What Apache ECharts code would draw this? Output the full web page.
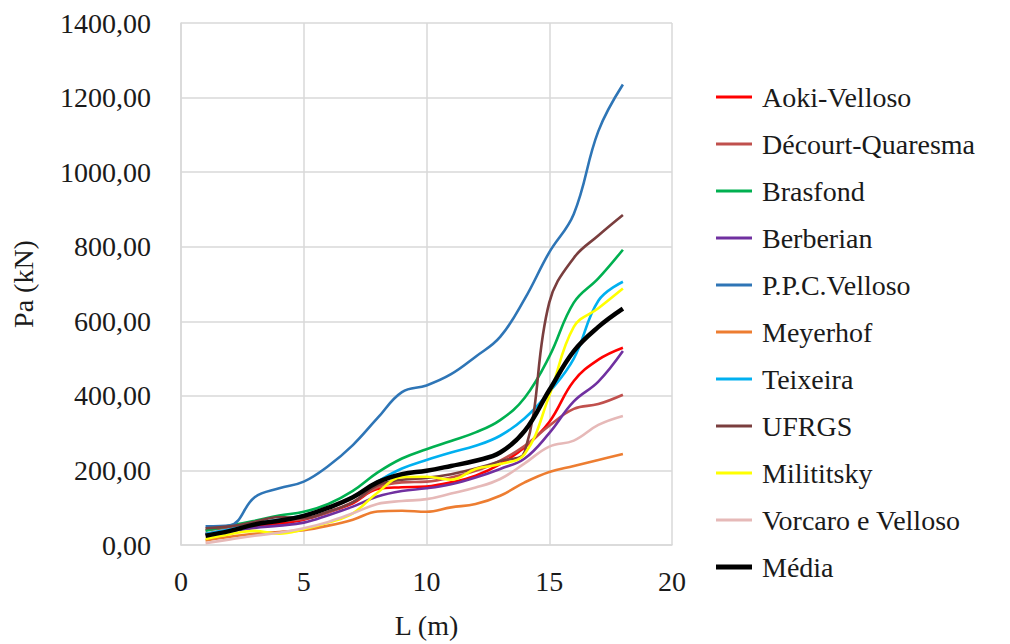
<!DOCTYPE html>
<html>
<head>
<meta charset="utf-8">
<script src="https://cdn.jsdelivr.net/npm/echarts@6/dist/echarts.min.js"></script>
<style>
  html, body { margin: 0; padding: 0; background: #ffffff; }
  #chart { width: 1010px; height: 644px; }
</style>
</head>
<body>
<div id="chart"></div>
<script>
// Pile length L (m) at which each method was evaluated
const lengths = [1, 2, 3, 4, 5, 6, 7, 8, 9, 10, 11, 12, 13, 14, 15, 16, 17, 18];

// Bearing capacity Pa (kN) per method
const aokiVelloso      = [30, 40, 50, 57, 68, 88, 112, 150, 155, 157, 168, 186, 217, 262, 330, 440, 497, 529];
const decourtQuaresma  = [40, 48, 58, 65, 70, 88, 115, 155, 168, 170, 181, 199, 226, 266, 320, 365, 378, 403];
const brasfond         = [38, 52, 65, 79, 89, 110, 145, 194, 232, 257, 279, 302, 335, 395, 505, 650, 715, 792];
const berberian        = [28, 37, 46, 52, 60, 80, 103, 130, 145, 152, 163, 181, 204, 232, 300, 385, 438, 520];
const ppcVelloso       = [50, 53, 128, 152, 170, 212, 268, 340, 410, 428, 458, 505, 558, 660, 785, 888, 1110, 1235];
const meyerhof         = [12, 22, 30, 35, 40, 52, 68, 90, 92, 89, 101, 110, 132, 168, 196, 212, 228, 244];
const teixeira         = [30, 42, 57, 68, 80, 100, 130, 170, 205, 228, 248, 266, 293, 340, 410, 500, 655, 706];
const ufrgs            = [45, 50, 62, 75, 72, 90, 115, 160, 175, 180, 190, 205, 225, 250, 650, 770, 830, 885];
const milititsky       = [16, 29, 38, 30, 42, 60, 85, 140, 182, 183, 175, 204, 217, 244, 400, 585, 635, 688];
const vorcaroVelloso   = [5, 15, 25, 33, 45, 62, 85, 110, 118, 123, 138, 154, 177, 219, 264, 280, 322, 346];
const media            = [25, 38, 55, 65, 78, 100, 128, 168, 190, 199, 212, 226, 248, 306, 415, 520, 585, 634];

const seriesNames = ['Aoki-Velloso', 'Décourt-Quaresma', 'Brasfond', 'Berberian', 'P.P.C.Velloso',
                     'Meyerhof', 'Teixeira', 'UFRGS', 'Milititsky', 'Vorcaro e Velloso', 'Média'];
const seriesValues = [aokiVelloso, decourtQuaresma, brasfond, berberian, ppcVelloso,
                      meyerhof, teixeira, ufrgs, milititsky, vorcaroVelloso, media];
const seriesColors = ['#ff0000', '#c0504d', '#00b050', '#7030a0', '#2e75b6',
                      '#ed7d31', '#00b0f0', '#7a3e3e', '#ffff00', '#e6b9b8', '#000000'];

const FONT = '"Liberation Serif", "Times New Roman", serif';
const TEXT_COLOR = '#1a1a1a';
const AVERAGE = 'Média';

// Legend keys are plain line segments; the average gets a heavier one
const thinKey = 'path://M0,0 H36 V3 H0 Z';
const thickKey = 'path://M0,0 H36 V5 H0 Z';

const chart = echarts.init(document.getElementById('chart'), null, { renderer: 'svg' });

const series = seriesNames.map((name, k) => ({
  name: name,
  type: 'line',
  data: lengths.map((l, i) => [l, seriesValues[k][i]]),
  smooth: 0.4,
  symbol: 'none',
  lineStyle: { color: seriesColors[k], width: name === AVERAGE ? 4.5 : 2.6 },
  itemStyle: { color: seriesColors[k] },
  z: name === AVERAGE ? 5 : 2
}));

chart.setOption({
  animation: false,
  backgroundColor: '#ffffff',
  grid: { left: 181, right: 338, top: 23, bottom: 98, containLabel: false },
  xAxis: {
    type: 'value',
    min: 0, max: 20, interval: 5,
    name: 'L (m)',
    nameLocation: 'middle',
    nameGap: 66,
    nameTextStyle: { fontFamily: FONT, fontSize: 28, color: TEXT_COLOR },
    axisLine: { show: true, lineStyle: { color: '#d9d9d9', width: 1.5 } },
    axisTick: { show: false },
    axisLabel: { fontFamily: FONT, fontSize: 28, color: TEXT_COLOR, margin: 22 },
    splitLine: { show: true, lineStyle: { color: '#d9d9d9', width: 1.5 } }
  },
  yAxis: {
    type: 'value',
    min: 0, max: 1400, interval: 200,
    name: 'Pa (kN)',
    nameLocation: 'middle',
    nameGap: 144,
    nameTextStyle: { fontFamily: FONT, fontSize: 28, color: TEXT_COLOR },
    axisLine: { show: true, lineStyle: { color: '#d9d9d9', width: 1.5 } },
    axisTick: { show: false },
    axisLabel: {
      fontFamily: FONT, fontSize: 28, color: TEXT_COLOR, margin: 30,
      formatter: v => v.toFixed(2).replace('.', ',')
    },
    splitLine: { show: true, lineStyle: { color: '#d9d9d9', width: 1.5 } }
  },
  legend: {
    orient: 'vertical',
    left: 716,
    top: 83,
    padding: 0,
    itemWidth: 36,
    itemHeight: 14,
    itemGap: 19,
    data: seriesNames.map(name => ({ name: name, icon: name === AVERAGE ? thickKey : thinKey })),
    textStyle: { fontFamily: FONT, fontSize: 28, color: TEXT_COLOR, lineHeight: 28, padding: [0, 0, 0, 5] }
  },
  series: series
});
</script>
</body>
</html>
